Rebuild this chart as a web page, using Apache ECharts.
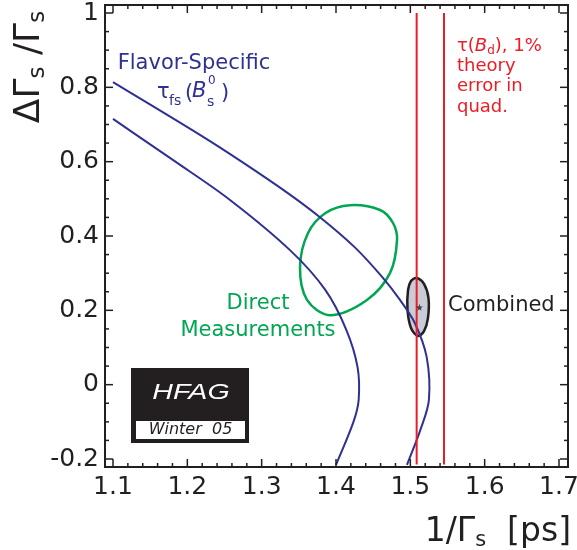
<!DOCTYPE html>
<html><head><meta charset="utf-8">
<script src="https://cdn.jsdelivr.net/npm/echarts@6/dist/echarts.min.js"></script>
<style>html,body{margin:0;padding:0;background:#fff}#c{width:577px;height:550px}</style>
</head><body><div id="c"></div>
<script>
// ---- axis ticks ----
const xTicks = [1.1, 1.2, 1.3, 1.4, 1.5, 1.6, 1.7];
const yTicks = [-0.2, 0, 0.2, 0.4, 0.6, 0.8, 1];
const xMinorSplit = 5, yMinorSplit = 4;

// ---- flavor-specific lifetime band (two contours) ----
const fsOuterX = [1.100, 1.217, 1.273, 1.3347, 1.3780, 1.4250, 1.4620, 1.4861, 1.5060, 1.5220, 1.5250, 1.5140, 1.4955];
const fsOuterY = [0.814, 0.672, 0.600, 0.516, 0.451, 0.370, 0.290, 0.228, 0.166, 0.074, -0.041, -0.119, -0.216];
const fsInnerX = [1.100, 1.181, 1.2574, 1.3381, 1.3856, 1.4140, 1.4290, 1.4305, 1.4235, 1.4000];
const fsInnerY = [0.715, 0.604, 0.497, 0.362, 0.255, 0.147, 0.047, -0.041, -0.100, -0.216];

// ---- direct measurements contour ----
const directX = [1.4188, 1.4592, 1.4767, 1.4821, 1.4726, 1.4417, 1.3919, 1.3610, 1.3516, 1.3624, 1.3859];
const directY = [0.483, 0.470, 0.435, 0.389, 0.300, 0.228, 0.187, 0.228, 0.317, 0.408, 0.462];

// ---- combined contour + best fit ----
const combX = [1.5083, 1.5184, 1.5244, 1.5237, 1.5184, 1.5103, 1.5009, 1.4962, 1.4969, 1.5009];
const combY = [0.287, 0.271, 0.233, 0.179, 0.144, 0.131, 0.1525, 0.201, 0.2547, 0.279];
const bestFit = [1.5123, 0.208];

// ---- tau(Bd) band edges ----
const tauBdEdges = [1.5085, 1.5453];
const tauBdYSpan = [1.0, -0.215];

const BLUE = '#2e3192', GREEN = '#00a651', RED = '#ed1c24', INK = '#231f20';
const FF = '"DejaVu Sans", "Liberation Sans", sans-serif';

const zip = (xs, ys) => xs.map((x, i) => [x, ys[i]]);
const fmt = v => String(+(+v).toFixed(1));

function mkAxis(ticks, pos, offset, labels) {
  return {
    type: 'value', position: pos, offset: offset,
    min: ticks[0], max: ticks[ticks.length - 1], interval: +(ticks[1] - ticks[0]).toFixed(4),
    axisLine: { show: false, onZero: false }, splitLine: { show: false },
    axisTick: { show: false }, minorTick: { show: false },
    axisLabel: labels ? { show: true, formatter: fmt, fontFamily: FF, fontSize: 25, color: INK,
      margin: (pos === 'bottom' ? 8 : 6) } : { show: false }
  };
}

// tick marks (major + minor) on all four sides of the frame, placed through the axis scales
function tickMarks(majors, split) {
  const out = [];
  for (let i = 0; i < majors.length; i++) {
    out.push([majors[i], true]);
    if (i < majors.length - 1) {
      for (let k = 1; k < split; k++) out.push([majors[i] + (majors[i + 1] - majors[i]) * k / split, false]);
    }
  }
  return out;
}
const xMarks = tickMarks(xTicks, xMinorSplit);
const yMarks = tickMarks(yTicks, yMinorSplit);

// smooth path through pixel points (chord-scaled Catmull-Rom -> cubic Bezier)
function smoothPath(pts, closed) {
  const n = pts.length;
  const get = i => closed ? pts[(i + n) % n] : pts[Math.max(0, Math.min(n - 1, i))];
  const dist = (a, b) => Math.hypot(a[0] - b[0], a[1] - b[1]) || 1e-6;
  let d = 'M' + pts[0][0] + ',' + pts[0][1];
  const segs = closed ? n : n - 1;
  for (let i = 0; i < segs; i++) {
    const p0 = get(i - 1), p1 = get(i), p2 = get(i + 1), p3 = get(i + 2);
    const d01 = dist(p0, p1), d12 = dist(p1, p2), d23 = dist(p2, p3);
    const k1 = d12 / (3 * (d01 + d12)), k2 = d12 / (3 * (d12 + d23));
    const c1 = [p1[0] + (p2[0] - p0[0]) * k1, p1[1] + (p2[1] - p0[1]) * k1];
    const c2 = [p2[0] - (p3[0] - p1[0]) * k2, p2[1] - (p3[1] - p1[1]) * k2];
    d += ' C' + c1[0] + ',' + c1[1] + ' ' + c2[0] + ',' + c2[1] + ' ' + p2[0] + ',' + p2[1];
  }
  if (closed) d += ' Z';
  return d;
}

function curveSeries(name, xs, ys, closed, style, z) {
  return {
    name: name, type: 'custom', data: zip(xs, ys), encode: { x: 0, y: 1 }, z: z, clip: false,
    renderItem: function (params, api) {
      if (params.dataIndex !== 0) return null;
      const pts = xs.map((x, i) => api.coord([x, ys[i]]));
      return { type: 'path', shape: { pathData: smoothPath(pts, closed) }, style: style };
    }
  };
}

const chart = echarts.init(document.getElementById('c'), null, { renderer: 'canvas' });
const series = [
  curveSeries('Direct Measurements', directX, directY, true, { fill: 'none', stroke: GREEN, lineWidth: 2.5 }, 2),
  curveSeries('Combined', combX, combY, true, { fill: '#c9ccd6', stroke: INK, lineWidth: 2.5 }, 3),
  curveSeries('FS outer', fsOuterX, fsOuterY, false, { fill: 'none', stroke: BLUE, lineWidth: 2 }, 4),
  curveSeries('FS inner', fsInnerX, fsInnerY, false, { fill: 'none', stroke: BLUE, lineWidth: 2 }, 4)
];
tauBdEdges.forEach((x, i) => series.push({
  name: 'tauBd' + i, type: 'line', data: tauBdYSpan.map(y => [x, y]), showSymbol: false, clip: false,
  lineStyle: { color: RED, width: 2 }, z: 5
}));
series.push({ name: 'best fit', type: 'scatter', data: [bestFit], symbolSize: 7, z: 6,
  symbol: 'path://M0,-10 L2.35,-3.24 L9.51,-3.09 L3.8,1.24 L5.88,8.09 L0,4 L-5.88,8.09 L-3.8,1.24 L-9.51,-3.09 L-2.35,-3.24 Z',
  itemStyle: { color: INK } });
// frame tick marks
series.push({
  name: 'ticks', type: 'custom', silent: true, clip: false, z: 7,
  data: [[xTicks[0], yTicks[0]]], encode: { x: 0, y: 1 },
  renderItem: function (params, api) {
    if (params.dataIndex !== 0) return null;
    const p0 = api.coord([xTicks[0], yTicks[0]]);
    const p1 = api.coord([xTicks[xTicks.length - 1], yTicks[yTicks.length - 1]]);
    const L = p0[0] - 8, R = p1[0] + 9, B = p0[1] + 8, Tp = p1[1] - 8;
    const kids = [];
    const seg = (x1, y1, x2, y2) => kids.push({ type: 'line', shape: { x1: x1, y1: y1, x2: x2, y2: y2 },
      style: { stroke: INK, lineWidth: 1.5 } });
    xMarks.forEach(m => {
      const px = api.coord([m[0], yTicks[0]])[0], len = m[1] ? 8 : 4;
      seg(px, B, px, B - len); seg(px, Tp, px, Tp + len);
    });
    yMarks.forEach(m => {
      const py = api.coord([xTicks[0], m[0]])[1], len = m[1] ? 8 : 4;
      seg(L, py, L + len, py); seg(R, py, R - len, py);
    });
    return { type: 'group', children: kids };
  }
});

const T = (x, y, text, size, color, extra) => Object.assign({
  type: 'text', x: x, y: y, z: 100,
  style: Object.assign({ text: text, fontSize: size, fontFamily: FF, fill: color, align: 'left', verticalAlign: 'middle' }, extra || {})
});

const graphic = [
  // plot frame
  { type: 'rect', z: 50, silent: true, shape: { x: 105, y: 5, width: 463, height: 462 },
    style: { fill: 'none', stroke: INK, lineWidth: 2 } },
  // y axis title
  { type: 'text', x: 30, y: 67, rotation: Math.PI / 2, z: 100,
    style: { text: '{m|ΔΓ}{s|s}{m| /Γ}{s|s}', fontFamily: FF, fontSize: 36, fill: INK, align: 'center', verticalAlign: 'middle',
      rich: { m: { fontSize: 36, fontFamily: FF, lineHeight: 40 }, s: { fontSize: 23, fontFamily: FF, lineHeight: 26, verticalAlign: 'bottom' } } } },
  // x axis title
  { type: 'text', x: 571, y: 532, z: 100,
    style: { text: '{m|1/Γ}{s|s}{m|  [ps]}', fontFamily: FF, fontSize: 33, fill: INK, align: 'right', verticalAlign: 'middle',
      rich: { m: { fontSize: 33, fontFamily: FF, lineHeight: 38 }, s: { fontSize: 21, fontFamily: FF, lineHeight: 20, verticalAlign: 'bottom' } } } },
  // flavor specific label
  T(194, 64, 'Flavor-Specific', 21, BLUE, { align: 'center' }),
  T(157, 93, 'τ', 21, BLUE),
  T(169, 101, 'fs', 14, BLUE),
  T(185, 94, '(', 21, BLUE),
  T(192, 92, 'B', 21, BLUE, { fontStyle: 'italic' }),
  T(208, 81, '0', 12, BLUE),
  T(207, 102, 's', 14, BLUE),
  T(221, 94, ')', 21, BLUE),
  // tau(Bd) label
  { type: 'text', x: 457, y: 46, z: 100,
    style: { text: '{n|τ(}{i|B}{d|d}{n|), 1%}', fontFamily: FF, fontSize: 18, fill: RED, align: 'left', verticalAlign: 'middle',
      rich: { n: { fontSize: 18, fontFamily: FF, lineHeight: 22 }, i: { fontSize: 18, fontFamily: FF, fontStyle: 'italic', lineHeight: 22 },
        d: { fontSize: 12, fontFamily: FF, lineHeight: 12, verticalAlign: 'bottom' } } } },
  T(457, 66, 'theory', 18, RED),
  T(457, 86.5, 'error in', 18, RED),
  T(457, 107, 'quad.', 18, RED),
  // direct measurements
  T(258, 304, 'Direct', 21, GREEN, { align: 'center' }),
  T(258, 331, 'Measurements', 21, GREEN, { align: 'center' }),
  // combined
  T(448, 306, 'Combined', 21, INK),
  // HFAG logo
  { type: 'rect', z: 100, shape: { x: 131, y: 368, width: 118, height: 75 }, style: { fill: INK } },
  { type: 'rect', z: 101, shape: { x: 136, y: 421, width: 109, height: 18 }, style: { fill: '#fff' } },
  { type: 'text', x: 191, y: 393, scaleX: 1.3, z: 102,
    style: { text: 'HFAG', fontFamily: '"Liberation Sans", sans-serif', fontSize: 22, fontStyle: 'italic', fill: '#fff', align: 'center', verticalAlign: 'middle' } },
  { type: 'text', x: 190.5, y: 430, z: 102,
    style: { text: 'Winter  05', fontFamily: FF, fontSize: 16, fontStyle: 'italic', fill: INK, align: 'center', verticalAlign: 'middle' } }
];

chart.setOption({
  animation: false,
  backgroundColor: '#fff',
  grid: { left: 113, right: 18, top: 13, bottom: 91, show: false, containLabel: false, outerBoundsMode: 'none' },
  xAxis: [
    mkAxis(xTicks, 'bottom', 8, true),
    mkAxis(xTicks, 'top', 8, false)
  ],
  yAxis: [
    mkAxis(yTicks, 'left', 8, true),
    mkAxis(yTicks, 'right', 9, false)
  ],
  series: series,
  graphic: graphic
});
</script>
</body></html>
